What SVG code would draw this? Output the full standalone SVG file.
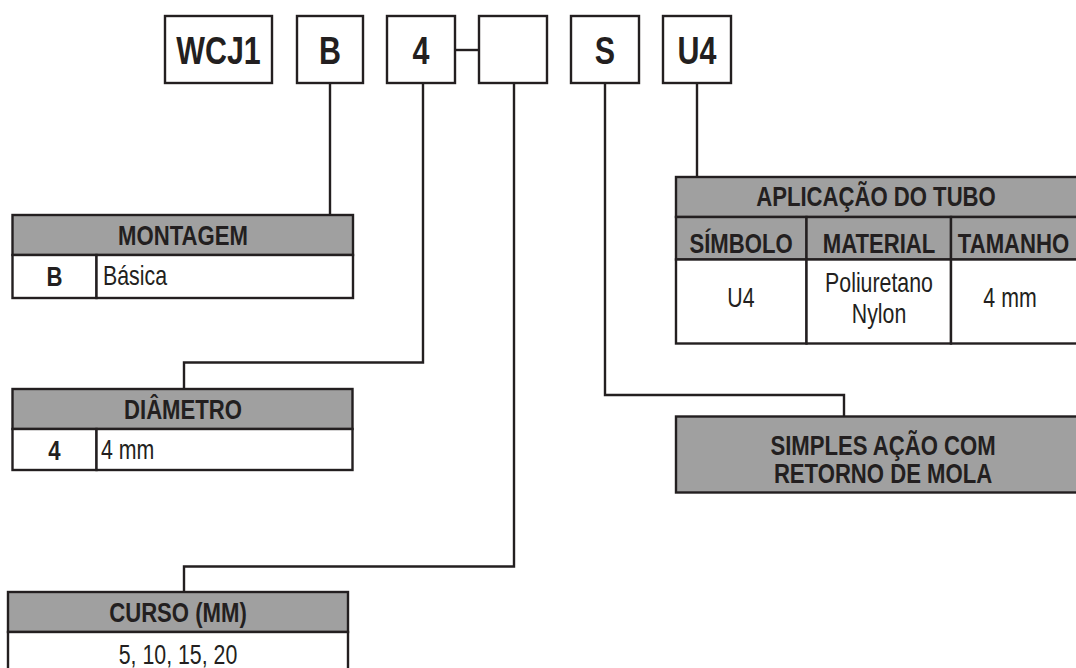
<svg xmlns="http://www.w3.org/2000/svg" width="1076" height="668" viewBox="0 0 1076 668">
<style>
  text { font-family: "Liberation Sans", Arial, sans-serif; fill: #231f20; }
  .code { font-size: 39px; font-weight: bold; text-anchor: middle; }
  .hd { font-size: 28px; font-weight: bold; text-anchor: middle; }
  .bd { font-size: 28px; font-weight: bold; text-anchor: middle; }
  .tx { font-size: 27px; }
  .txc { font-size: 27px; text-anchor: middle; }
  .box { fill: #ffffff; stroke: #231f20; stroke-width: 2.4; }
  .hdr { fill: #a0a0a0; stroke: #231f20; stroke-width: 2.4; }
  .cell { fill: #ffffff; stroke: #231f20; stroke-width: 2.4; }
  .conn { fill: none; stroke: #231f20; stroke-width: 2.4; }
</style>

<g id="connectors">
  <path class="conn" d="M330,83 V215"/>
  <path class="conn" d="M423,83 V362.5 H184 V389"/>
  <path class="conn" d="M455,50 H479"/>
  <path class="conn" d="M514,83 V566.5 H184 V592"/>
  <path class="conn" d="M605,83 V395 H844 V416.5"/>
  <path class="conn" d="M697,83 V177"/>
</g>

<g id="code-wcj1">
  <rect class="box" x="165" y="16" width="107" height="67"/>
  <text class="code" transform="translate(218.5,64) scale(0.78,1)">WCJ1</text>
</g>
<g id="code-b">
  <rect class="box" x="297" y="16" width="66" height="67"/>
  <text class="code" transform="translate(330,64) scale(0.78,1)">B</text>
</g>
<g id="code-4">
  <rect class="box" x="387" y="16" width="68" height="67"/>
  <text class="code" transform="translate(421,64) scale(0.78,1)">4</text>
</g>
<g id="code-empty">
  <rect class="box" x="479" y="16" width="68" height="67"/>
</g>
<g id="code-s">
  <rect class="box" x="571" y="16" width="68" height="67"/>
  <text class="code" transform="translate(605,64) scale(0.78,1)">S</text>
</g>
<g id="code-u4">
  <rect class="box" x="663" y="16" width="68" height="67"/>
  <text class="code" transform="translate(697,64) scale(0.78,1)">U4</text>
</g>

<g id="montagem">
  <rect class="hdr" x="12.5" y="215" width="340.5" height="40"/>
  <text class="hd" transform="translate(183,245) scale(0.79,1)">MONTAGEM</text>
  <rect class="cell" x="12.5" y="255" width="84" height="43"/>
  <rect class="cell" x="96.5" y="255" width="256.5" height="43"/>
  <text class="bd" transform="translate(54.5,286) scale(0.79,1)">B</text>
  <text class="tx" transform="translate(103,285) scale(0.79,1)">Básica</text>
</g>

<g id="diametro">
  <rect class="hdr" x="12.5" y="389" width="340" height="40"/>
  <text class="hd" transform="translate(183,419) scale(0.79,1)">DIÂMETRO</text>
  <rect class="cell" x="12.5" y="429" width="84" height="41"/>
  <rect class="cell" x="96.5" y="429" width="256" height="41"/>
  <text class="bd" transform="translate(54.5,459.5) scale(0.79,1)">4</text>
  <text class="tx" transform="translate(101,459) scale(0.79,1)">4 mm</text>
</g>

<g id="curso">
  <rect class="hdr" x="8" y="592" width="340" height="40"/>
  <text class="hd" transform="translate(178,622) scale(0.79,1)">CURSO (MM)</text>
  <rect class="cell" x="8" y="632" width="340" height="50"/>
  <text class="txc" transform="translate(178,664) scale(0.79,1)">5, 10, 15, 20</text>
</g>

<g id="aplicacao">
  <rect class="hdr" x="676" y="177" width="410" height="40"/>
  <text class="hd" transform="translate(876,206) scale(0.79,1)">APLICAÇÃO DO TUBO</text>
  <rect class="hdr" x="676" y="217" width="130.5" height="42.5"/>
  <rect class="hdr" x="806.5" y="217" width="144.5" height="42.5"/>
  <rect class="hdr" x="951" y="217" width="135" height="42.5"/>
  <text class="hd" transform="translate(741,252.5) scale(0.79,1)">SÍMBOLO</text>
  <text class="hd" transform="translate(879,252.5) scale(0.79,1)">MATERIAL</text>
  <text class="hd" transform="translate(1013.5,252.5) scale(0.79,1)">TAMANHO</text>
  <rect class="cell" x="676" y="259.5" width="130.5" height="84"/>
  <rect class="cell" x="806.5" y="259.5" width="144.5" height="84"/>
  <rect class="cell" x="951" y="259.5" width="135" height="84"/>
  <text class="txc" transform="translate(741,307) scale(0.79,1)">U4</text>
  <text class="txc" transform="translate(879,292) scale(0.79,1)">Poliuretano</text>
  <text class="txc" transform="translate(879,323) scale(0.79,1)">Nylon</text>
  <text class="txc" transform="translate(1010,307) scale(0.79,1)">4 mm</text>
</g>

<g id="simples">
  <rect class="hdr" x="676" y="416.5" width="414" height="76"/>
  <text class="hd" transform="translate(883,455) scale(0.79,1)">SIMPLES AÇÃO COM</text>
  <text class="hd" transform="translate(883,483) scale(0.79,1)">RETORNO DE MOLA</text>
</g>
</svg>
